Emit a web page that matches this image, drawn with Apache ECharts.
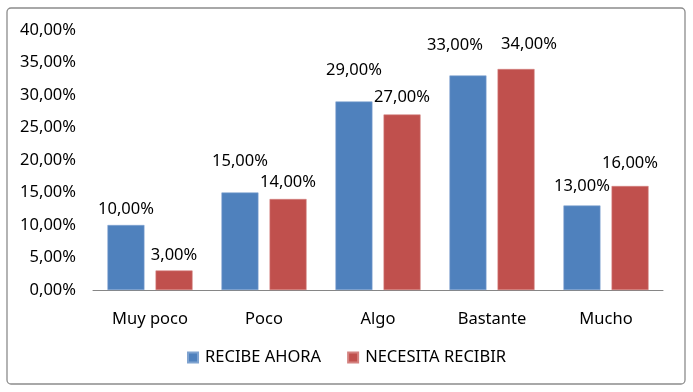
<!DOCTYPE html>
<html><head><meta charset="utf-8">
<script src="https://cdn.jsdelivr.net/npm/echarts@6/dist/echarts.min.js"></script>
<style>html,body{margin:0;padding:0;background:#fff}#c{width:693px;height:392px}</style>
</head><body><div id="c"></div>
<script>
const categories = ['Muy poco', 'Poco', 'Algo', 'Bastante', 'Mucho'];
const recibeAhora = [10, 15, 29, 33, 13];
const necesitaRecibir = [3, 14, 27, 34, 16];
const seriesNames = ['RECIBE AHORA', 'NECESITA RECIBIR'];
const yTicks = { min: 0, max: 40, interval: 5 };

// label placement above bars (style; mimics the original's label collision avoidance)
const blueLabelDist = [7, 23, 23, 22, 11];
const redLabelDist = [7, 8, 9, 16, 14];
const blueLabelDx = [0, 0, 0, -13, 0];
const redLabelDx = [0, 0, 0, 13, 0];

const fmt = v => Number(v).toFixed(2).replace('.', ',') + '%';
const FONT = 'Noto Sans';
const FS = 16.5;
const chart = echarts.init(document.getElementById('c'));
const labelCfg = { show: true, position: 'top', color: '#000', fontFamily: FONT, fontSize: FS, formatter: p => fmt(p.value) };
const withLabel = (vals, dists, dxs) => vals.map((v, i) => ({ value: v, label: { distance: dists[i], offset: [dxs[i], 0] } }));
chart.setOption({
  animation: false,
  textStyle: { fontFamily: FONT },
  graphic: [{ type: 'rect', shape: { x: 7, y: 8, width: 678, height: 376, r: 4 }, style: { fill: 'none', stroke: '#8c8c8c', lineWidth: 1.3 }, silent: true, z: -1 }],
  grid: { left: 93, right: 30, top: 30, bottom: 102 },
  legend: {
    bottom: 21, left: 'center', itemWidth: 10, itemHeight: 10, itemGap: 26, icon: 'rect',
    textStyle: { color: '#000', fontFamily: FONT, fontSize: FS, padding: [0, 0, 0, 2] },
    data: seriesNames
  },
  xAxis: {
    type: 'category', data: categories,
    axisLine: { lineStyle: { color: '#868686', width: 1 } },
    axisTick: { show: false },
    axisLabel: { color: '#000', fontFamily: FONT, fontSize: FS, margin: 21 }
  },
  yAxis: {
    type: 'value', min: yTicks.min, max: yTicks.max, interval: yTicks.interval,
    axisLine: { show: false }, axisTick: { show: false }, splitLine: { show: false },
    axisLabel: { color: '#000', fontFamily: FONT, fontSize: FS, margin: 17, formatter: v => fmt(v) }
  },
  series: [
    { name: seriesNames[0], type: 'bar', data: withLabel(recibeAhora, blueLabelDist, blueLabelDx), barWidth: 37, barGap: '30%',
      itemStyle: { color: '#4F81BD', borderColor: '#7FA3D0', borderWidth: 0.6 }, label: labelCfg },
    { name: seriesNames[1], type: 'bar', data: withLabel(necesitaRecibir, redLabelDist, redLabelDx), barWidth: 37,
      itemStyle: { color: '#C0504D', borderColor: '#D48280', borderWidth: 0.6 }, label: labelCfg }
  ]
});
</script></body></html>
